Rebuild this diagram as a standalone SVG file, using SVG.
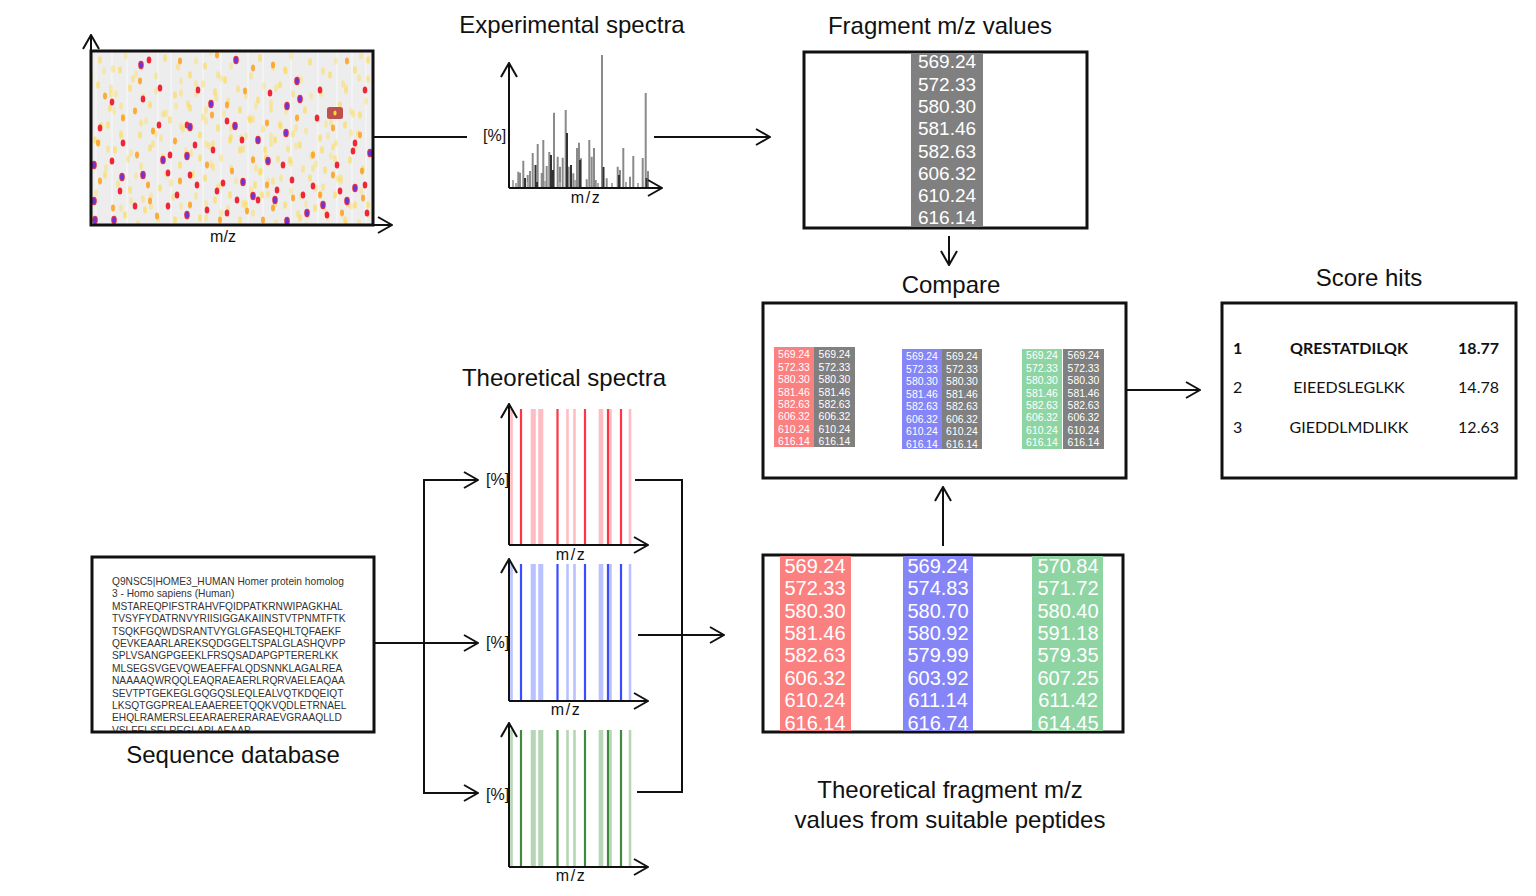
<svg xmlns="http://www.w3.org/2000/svg" xmlns:xlink="http://www.w3.org/1999/xlink" width="1536" height="896" viewBox="0 0 1536 896">
<style>
text{font-family:"Liberation Sans",Arial,sans-serif;fill:#111}
.t{font-size:24px;text-anchor:middle}
.ax{font-size:16px}
.mz{font-size:16px;text-anchor:middle;letter-spacing:1.5px}
.num{font-size:19px;fill:#fff;text-anchor:middle}
.num2{font-size:20px;fill:#fff;text-anchor:middle}
.sm{font-size:10.4px;fill:#fff;text-anchor:middle}
.seq{font-size:10.2px;fill:#333}
.sc{font-family:Lato,"Liberation Sans",sans-serif;font-size:16px;fill:#111}
.b{font-weight:bold}
.box{fill:#fff;stroke:#111;stroke-width:3}
.ln{fill:none;stroke:#111;stroke-width:2}
.arr{fill:none;stroke:#111;stroke-width:2;marker-end:url(#ah)}
</style>
<defs>
<marker id="ah" viewBox="0 0 16 18" refX="15" refY="9" markerWidth="16" markerHeight="18" markerUnits="userSpaceOnUse" orient="auto"><path d="M1,1 L15,9 L1,17" fill="none" stroke="#111" stroke-width="2"/></marker>
<filter id="bl" x="-5%" y="-5%" width="110%" height="110%"><feGaussianBlur stdDeviation="0.7"/></filter>
<ellipse id="sy" rx="2" ry="3.8" fill="#ffd83a" opacity=".55"/>
<ellipse id="so" rx="2" ry="3.4" fill="#ff9e1a" opacity=".85"/>
<ellipse id="sr" rx="2.3" ry="3.6" fill="#ee2834"/>
<g id="sp"><ellipse rx="2.8" ry="4.2" fill="#e8303a"/><ellipse rx="1.9" ry="3" fill="#6a35e0"/></g>
<clipPath id="hc"><rect x="92" y="52" width="280" height="172"/></clipPath>
<clipPath id="sc"><rect x="92" y="557" width="282" height="174"/></clipPath>
<clipPath id="tc"><rect x="764" y="556" width="358" height="175"/></clipPath>
<path id="tbL" d="M511.5,0V137M532,0V137M534.5,0V137M539.5,0V137M542,0V137M567.5,0V137M574.5,0V137M600,0V137M602,0V137M610.5,0V137M630,0V137"/>
<path id="tbD" d="M521,0V137M557.5,0V137M585,0V137M608,0V137M621,0V137"/>
<g id="yl">
<use href="#sy" x="100" y="60"/><use href="#sy" x="120" y="70"/><use href="#sy" x="165" y="58"/><use href="#sy" x="190" y="75"/><use href="#sy" x="205" y="66"/><use href="#sy" x="225" y="80"/><use href="#sy" x="260" y="58"/><use href="#sy" x="285" y="70"/><use href="#sy" x="310" y="62"/><use href="#sy" x="330" y="75"/><use href="#sy" x="355" y="70"/><use href="#sy" x="368" y="60"/><use href="#sy" x="98" y="85"/><use href="#sy" x="130" y="88"/><use href="#sy" x="175" y="95"/><use href="#sy" x="215" y="92"/><use href="#sy" x="240" y="110"/><use href="#sy" x="258" y="100"/><use href="#sy" x="280" y="85"/><use href="#sy" x="305" y="110"/><use href="#sy" x="340" y="105"/><use href="#sy" x="360" y="115"/><use href="#sy" x="108" y="125"/><use href="#sy" x="140" y="135"/><use href="#sy" x="170" y="120"/><use href="#sy" x="200" y="135"/><use href="#sy" x="218" y="128"/><use href="#sy" x="250" y="120"/><use href="#sy" x="275" y="140"/><use href="#sy" x="300" y="145"/><use href="#sy" x="320" y="138"/><use href="#sy" x="345" y="125"/><use href="#sy" x="115" y="150"/><use href="#sy" x="150" y="148"/><use href="#sy" x="180" y="165"/><use href="#sy" x="200" y="158"/><use href="#sy" x="240" y="150"/><use href="#sy" x="260" y="172"/><use href="#sy" x="290" y="160"/><use href="#sy" x="325" y="170"/><use href="#sy" x="350" y="160"/><use href="#sy" x="105" y="175"/><use href="#sy" x="130" y="190"/><use href="#sy" x="160" y="188"/><use href="#sy" x="205" y="178"/><use href="#sy" x="230" y="195"/><use href="#sy" x="255" y="185"/><use href="#sy" x="285" y="205"/><use href="#sy" x="310" y="178"/><use href="#sy" x="335" y="195"/><use href="#sy" x="355" y="205"/><use href="#sy" x="125" y="215"/><use href="#sy" x="175" y="220"/><use href="#sy" x="200" y="218"/><use href="#sy" x="240" y="220"/><use href="#sy" x="300" y="218"/><use href="#sy" x="345" y="220"/><use href="#sy" x="368" y="205"/><use href="#sy" x="110" y="108"/><use href="#sy" x="150" y="105"/><use href="#sy" x="190" y="108"/><use href="#sy" x="265" y="150"/><use href="#sy" x="280" y="125"/><use href="#sy" x="230" y="140"/><use href="#sy" x="322" y="150"/><use href="#sy" x="95" y="140"/><use href="#sy" x="145" y="210"/><use href="#sy" x="215" y="200"/><use href="#sy" x="262" y="195"/><use href="#sy" x="315" y="208"/>
</g>
</defs>
<rect width="1536" height="896" fill="#fff"/>

<g id="heatmap">
<rect x="91" y="51" width="282" height="174" fill="#ededed"/>
<g clip-path="url(#hc)">
<g filter="url(#bl)">
<path d="M96,52V224M112,52V224M127,52V224M158,52V224M171,52V224M203,52V224M221,52V224M248,52V224M263,52V224M291,52V224M318,52V224M337,52V224M352,52V224M366,52V224" stroke="#fff" stroke-width="1.2" opacity=".6"/>
<use href="#yl"/>
<use href="#yl" x="13" y="9" opacity=".8"/>
<use href="#yl" x="-9" y="18" opacity=".7"/>
<use href="#yl" x="6" y="-14" opacity=".6"/>
<use href="#so" x="140" y="81"/><use href="#so" x="180" y="61"/><use href="#so" x="217" y="55"/><use href="#so" x="253" y="68"/><use href="#so" x="273" y="65"/><use href="#so" x="347" y="61"/><use href="#so" x="105" y="96"/><use href="#so" x="123" y="118"/><use href="#so" x="135" y="111"/><use href="#so" x="227" y="105"/><use href="#so" x="245" y="91"/><use href="#so" x="212" y="115"/><use href="#so" x="153" y="131"/><use href="#so" x="175" y="141"/><use href="#so" x="267" y="123"/><use href="#so" x="297" y="118"/><use href="#so" x="333" y="128"/><use href="#so" x="360" y="135"/><use href="#so" x="98" y="143"/><use href="#so" x="137" y="155"/><use href="#so" x="207" y="165"/><use href="#so" x="232" y="171"/><use href="#so" x="253" y="160"/><use href="#so" x="313" y="155"/><use href="#so" x="333" y="175"/><use href="#so" x="362" y="171"/><use href="#so" x="100" y="181"/><use href="#so" x="148" y="185"/><use href="#so" x="180" y="181"/><use href="#so" x="267" y="185"/><use href="#so" x="293" y="198"/><use href="#so" x="320" y="195"/><use href="#so" x="363" y="198"/><use href="#so" x="113" y="208"/><use href="#so" x="150" y="201"/><use href="#so" x="190" y="205"/><use href="#so" x="247" y="211"/><use href="#so" x="273" y="208"/><use href="#so" x="342" y="213"/><use href="#so" x="157" y="216"/><use href="#so" x="220" y="220"/><use href="#so" x="263" y="220"/>
<use href="#sr" x="149" y="60"/><use href="#sr" x="112" y="102"/><use href="#sr" x="143" y="99"/><use href="#sr" x="160" y="88"/><use href="#sr" x="198" y="90"/><use href="#sr" x="270" y="93"/><use href="#sr" x="320" y="90"/><use href="#sr" x="365" y="90"/><use href="#sr" x="317" y="118"/><use href="#sr" x="187" y="125"/><use href="#sr" x="227" y="121"/><use href="#sr" x="242" y="140"/><use href="#sr" x="195" y="145"/><use href="#sr" x="213" y="150"/><use href="#sr" x="170" y="155"/><use href="#sr" x="353" y="151"/><use href="#sr" x="355" y="143"/><use href="#sr" x="283" y="165"/><use href="#sr" x="337" y="165"/><use href="#sr" x="112" y="161"/><use href="#sr" x="168" y="173"/><use href="#sr" x="190" y="175"/><use href="#sr" x="223" y="183"/><use href="#sr" x="292" y="180"/><use href="#sr" x="313" y="186"/><use href="#sr" x="217" y="191"/><use href="#sr" x="237" y="200"/><use href="#sr" x="258" y="200"/><use href="#sr" x="120" y="191"/><use href="#sr" x="135" y="206"/><use href="#sr" x="168" y="206"/><use href="#sr" x="207" y="210"/><use href="#sr" x="227" y="213"/><use href="#sr" x="327" y="215"/><use href="#sr" x="367" y="213"/><use href="#sr" x="159" y="125"/><use href="#sr" x="123" y="143"/><use href="#sr" x="100" y="128"/><use href="#sr" x="365" y="185"/><use href="#sr" x="340" y="191"/><use href="#sr" x="303" y="195"/><use href="#sr" x="277" y="190"/><use href="#sr" x="197" y="185"/><use href="#sr" x="177" y="195"/>
<use href="#sp" x="141" y="65"/><use href="#sp" x="236" y="60"/><use href="#sp" x="297" y="81"/><use href="#sp" x="300" y="99"/><use href="#sp" x="211" y="104"/><use href="#sp" x="287" y="106"/><use href="#sp" x="235" y="126"/><use href="#sp" x="190" y="127"/><use href="#sp" x="258" y="140"/><use href="#sp" x="286" y="133"/><use href="#sp" x="187" y="156"/><use href="#sp" x="163" y="160"/><use href="#sp" x="94" y="165"/><use href="#sp" x="143" y="175"/><use href="#sp" x="122" y="177"/><use href="#sp" x="268" y="161"/><use href="#sp" x="243" y="182"/><use href="#sp" x="355" y="188"/><use href="#sp" x="370" y="153"/><use href="#sp" x="253" y="196"/><use href="#sp" x="275" y="200"/><use href="#sp" x="94" y="201"/><use href="#sp" x="347" y="201"/><use href="#sp" x="307" y="213"/><use href="#sp" x="187" y="215"/><use href="#sp" x="287" y="221"/><use href="#sp" x="95" y="220"/><use href="#sp" x="114" y="220"/><use href="#sp" x="323" y="205"/>
</g>
</g>
<rect x="327" y="107" width="16" height="12" rx="2.5" fill="#c0504d"/>
<ellipse cx="335" cy="113" rx="1.6" ry="2.6" fill="#ffd83a"/>
<rect x="91" y="51" width="282" height="174" fill="none" stroke="#111" stroke-width="3"/>
<path d="M91,225 V35" class="arr"/>
<path d="M91,225 H392" class="arr"/>
<text x="223" y="242" class="mz" style="letter-spacing:0">m/z</text>
</g>

<g id="experimental-spectra">
<text x="572" y="33" class="t">Experimental spectra</text>
<path d="M518.3,188V171.7M520,188V172.7M523.3,188V160.7M527.7,188V175M530,188V171M532.7,188V153M537.7,188V144M541.7,188V173M543.3,188V140M546.7,188V166M549.3,188V152M554,188V112.7M557.7,188V156.7M560,188V166.7M562.7,188V157.7M565.7,188V110M568.7,188V166.7M573.3,188V173.3M577,188V148M579,188V142.7M581,188V158.3M586.7,188V179.3M589.3,188V140M591.7,188V156.7M594,188V148M595.7,188V180M602,188V55M606.7,188V178.3M617.7,188V166.7M620,188V170M623.3,188V148M630,188V176.7M633.3,188V156M642.7,188V158M645.7,188V93M648,188V171" stroke="#8a8a8a" stroke-width="2" fill="none"/>
<path d="M513,188V180M516,188V183M528,188V182M545,188V181M560,188V182M575,188V180M598,188V183M612,188V183M626,188V182M638,188V183" stroke="#aaa" stroke-width="2" fill="none"/>
<path d="M525,188V178M535.5,188V165M551,188V155M567,188V133M571,188V165M580,188V160M603.5,188V167M619,188V175M646.5,188V178M553,188V170M537,188V182" stroke="#333" stroke-width="2" fill="none"/>
<path d="M509,188 V63" class="arr"/>
<path d="M509,188 H662" class="arr"/>
<text x="483" y="141" class="ax">[%]</text>
<text x="586" y="203" class="mz">m/z</text>
</g>

<g id="fragment-values">
<text x="940" y="34" class="t">Fragment m/z values</text>
<rect x="804" y="52" width="283" height="176" class="box"/>
<rect x="911" y="53.5" width="72" height="173" fill="#808080"/>
<text x="947" y="68.3" class="num">569.24</text>
<text x="947" y="90.6" class="num">572.33</text>
<text x="947" y="112.9" class="num">580.30</text>
<text x="947" y="135.2" class="num">581.46</text>
<text x="947" y="157.5" class="num">582.63</text>
<text x="947" y="179.8" class="num">606.32</text>
<text x="947" y="202.1" class="num">610.24</text>
<text x="947" y="224.4" class="num">616.14</text>
</g>

<g id="compare">
<text x="951" y="293" class="t">Compare</text>
<rect x="763" y="303" width="363" height="175" class="box"/>
<rect x="774" y="347" width="40" height="100" fill="#fb8080"/>
<rect x="814" y="347" width="41" height="100" fill="#808080"/>
<rect x="902" y="349" width="40" height="100" fill="#8585f8"/>
<rect x="942" y="349" width="40" height="100" fill="#808080"/>
<rect x="1022" y="349" width="40" height="100" fill="#8fd5a4"/>
<rect x="1063" y="349" width="41" height="100" fill="#808080"/>
<g class="sm">
<text x="794" y="358.3" class="sm">569.24</text><text x="794" y="370.7" class="sm">572.33</text><text x="794" y="383.1" class="sm">580.30</text><text x="794" y="395.5" class="sm">581.46</text><text x="794" y="407.9" class="sm">582.63</text><text x="794" y="420.3" class="sm">606.32</text><text x="794" y="432.7" class="sm">610.24</text><text x="794" y="445.1" class="sm">616.14</text>
<text x="834.5" y="358.3" class="sm">569.24</text><text x="834.5" y="370.7" class="sm">572.33</text><text x="834.5" y="383.1" class="sm">580.30</text><text x="834.5" y="395.5" class="sm">581.46</text><text x="834.5" y="407.9" class="sm">582.63</text><text x="834.5" y="420.3" class="sm">606.32</text><text x="834.5" y="432.7" class="sm">610.24</text><text x="834.5" y="445.1" class="sm">616.14</text>
<text x="922" y="360" class="sm">569.24</text><text x="922" y="372.5" class="sm">572.33</text><text x="922" y="385" class="sm">580.30</text><text x="922" y="397.5" class="sm">581.46</text><text x="922" y="410" class="sm">582.63</text><text x="922" y="422.5" class="sm">606.32</text><text x="922" y="435" class="sm">610.24</text><text x="922" y="447.5" class="sm">616.14</text>
<text x="962" y="360" class="sm">569.24</text><text x="962" y="372.5" class="sm">572.33</text><text x="962" y="385" class="sm">580.30</text><text x="962" y="397.5" class="sm">581.46</text><text x="962" y="410" class="sm">582.63</text><text x="962" y="422.5" class="sm">606.32</text><text x="962" y="435" class="sm">610.24</text><text x="962" y="447.5" class="sm">616.14</text>
<text x="1042" y="359.3" class="sm">569.24</text><text x="1042" y="371.7" class="sm">572.33</text><text x="1042" y="384.1" class="sm">580.30</text><text x="1042" y="396.5" class="sm">581.46</text><text x="1042" y="408.9" class="sm">582.63</text><text x="1042" y="421.3" class="sm">606.32</text><text x="1042" y="433.7" class="sm">610.24</text><text x="1042" y="446.1" class="sm">616.14</text>
<text x="1083.5" y="359.3" class="sm">569.24</text><text x="1083.5" y="371.7" class="sm">572.33</text><text x="1083.5" y="384.1" class="sm">580.30</text><text x="1083.5" y="396.5" class="sm">581.46</text><text x="1083.5" y="408.9" class="sm">582.63</text><text x="1083.5" y="421.3" class="sm">606.32</text><text x="1083.5" y="433.7" class="sm">610.24</text><text x="1083.5" y="446.1" class="sm">616.14</text>
</g>
</g>

<g id="score-hits">
<text x="1369" y="286" class="t">Score hits</text>
<rect x="1222" y="303" width="294" height="175" class="box"/>
<text x="1233" y="354" class="sc b">1</text>
<text x="1349" y="354" class="sc b" text-anchor="middle">QRESTATDILQK</text>
<text x="1499" y="354" class="sc b" text-anchor="end">18.77</text>
<text x="1233" y="393" class="sc">2</text>
<text x="1349" y="393" class="sc" text-anchor="middle">EIEEDSLEGLKK</text>
<text x="1499" y="393" class="sc" text-anchor="end">14.78</text>
<text x="1233" y="433" class="sc">3</text>
<text x="1349" y="433" class="sc" text-anchor="middle">GIEDDLMDLIKK</text>
<text x="1499" y="433" class="sc" text-anchor="end">12.63</text>
</g>

<g id="theoretical-spectra">
<text x="564" y="386" class="t">Theoretical spectra</text>
<use href="#tbL" transform="translate(0,409)" stroke="#ffbcc2" stroke-width="2.6"/>
<use href="#tbD" transform="translate(0,409)" stroke="#ff3545" stroke-width="2.2"/>
<path d="M509,545 V404" class="arr"/><path d="M509,545 H648" class="arr"/>
<text x="486" y="485" class="ax">[%]</text>
<text x="571" y="560" class="mz">m/z</text>
<use href="#tbL" transform="translate(0,564)" stroke="#b9c1ff" stroke-width="2.6"/>
<use href="#tbD" transform="translate(0,564)" stroke="#3a4cff" stroke-width="2.2"/>
<path d="M509,701 V559" class="arr"/><path d="M509,701 H648" class="arr"/>
<text x="486" y="648" class="ax">[%]</text>
<text x="566" y="715" class="mz">m/z</text>
<use href="#tbL" transform="translate(0,730)" stroke="#b6d6b6" stroke-width="2.6"/>
<use href="#tbD" transform="translate(0,730)" stroke="#3f8a3f" stroke-width="2.2"/>
<path d="M509,867 V723" class="arr"/><path d="M509,867 H648" class="arr"/>
<text x="486" y="800" class="ax">[%]</text>
<text x="571" y="881" class="mz">m/z</text>
</g>

<g id="sequence-database">
<rect x="92" y="557" width="282" height="175" class="box"/>
<g clip-path="url(#sc)">
<text x="112" y="585" class="seq">Q9NSC5|HOME3_HUMAN  Homer protein homolog</text>
<text x="112" y="597.4" class="seq">3 - Homo sapiens (Human)</text>
<text x="112" y="609.8" class="seq">MSTAREQPIFSTRAHVFQIDPATKRNWIPAGKHAL</text>
<text x="112" y="622.2" class="seq">TVSYFYDATRNVYRIISIGGAKAIINSTVTPNMTFTK</text>
<text x="112" y="634.6" class="seq">TSQKFGQWDSRANTVYGLGFASEQHLTQFAEKF</text>
<text x="112" y="647" class="seq">QEVKEAARLAREKSQDGGELTSPALGLASHQVPP</text>
<text x="112" y="659.4" class="seq">SPLVSANGPGEEKLFRSQSADAPGPTERERLKK</text>
<text x="112" y="671.8" class="seq">MLSEGSVGEVQWEAEFFALQDSNNKLAGALREA</text>
<text x="112" y="684.2" class="seq">NAAAAQWRQQLEAQRAEAERLRQRVAELEAQAA</text>
<text x="112" y="696.6" class="seq">SEVTPTGEKEGLGQGQSLEQLEALVQTKDQEIQT</text>
<text x="112" y="709" class="seq">LKSQTGGPREALEAAEREETQQKVQDLETRNAEL</text>
<text x="112" y="721.4" class="seq">EHQLRAMERSLEEARAERERARAEVGRAAQLLD</text>
<text x="112" y="733.8" class="seq">VSLFELSELREGLARLAEAAP</text>
</g>
<text x="233" y="763" class="t">Sequence database</text>
</g>

<g id="theoretical-fragments">
<rect x="763" y="555" width="360" height="177" class="box"/>
<g clip-path="url(#tc)">
<rect x="780" y="556" width="71" height="176" fill="#fb8080"/>
<rect x="903" y="556" width="70" height="176" fill="#8585f8"/>
<rect x="1032" y="556" width="71" height="176" fill="#8fd5a4"/>
<text x="815" y="573" class="num2">569.24</text><text x="815" y="595.3" class="num2">572.33</text><text x="815" y="617.6" class="num2">580.30</text><text x="815" y="639.9" class="num2">581.46</text><text x="815" y="662.2" class="num2">582.63</text><text x="815" y="684.5" class="num2">606.32</text><text x="815" y="706.8" class="num2">610.24</text><text x="815" y="729.5" class="num2">616.14</text>
<text x="938" y="573" class="num2">569.24</text><text x="938" y="595.3" class="num2">574.83</text><text x="938" y="617.6" class="num2">580.70</text><text x="938" y="639.9" class="num2">580.92</text><text x="938" y="662.2" class="num2">579.99</text><text x="938" y="684.5" class="num2">603.92</text><text x="938" y="706.8" class="num2">611.14</text><text x="938" y="729.5" class="num2">616.74</text>
<text x="1068" y="573" class="num2">570.84</text><text x="1068" y="595.3" class="num2">571.72</text><text x="1068" y="617.6" class="num2">580.40</text><text x="1068" y="639.9" class="num2">591.18</text><text x="1068" y="662.2" class="num2">579.35</text><text x="1068" y="684.5" class="num2">607.25</text><text x="1068" y="706.8" class="num2">611.42</text><text x="1068" y="729.5" class="num2">614.45</text>
</g>
<text x="950" y="798" class="t">Theoretical fragment m/z</text>
<text x="950" y="828" class="t">values from suitable peptides</text>
</g>

<g id="connectors">
<path d="M373,137 H467" class="ln"/>
<path d="M654,137 H770" class="arr"/>
<path d="M949,236 V265" class="arr"/>
<path d="M1126,390 H1200" class="arr"/>
<path d="M943,546 V487" class="arr"/>
<path d="M375,643 H478" class="arr"/>
<path d="M478,480 H424 V793 H478" class="ln"/>
<path d="M424,480 H478" class="arr"/>
<path d="M424,793 H478" class="arr"/>
<path d="M635,480 H682 V792 H637" class="ln"/>
<path d="M638,635 H724" class="arr"/>
</g>
</svg>
